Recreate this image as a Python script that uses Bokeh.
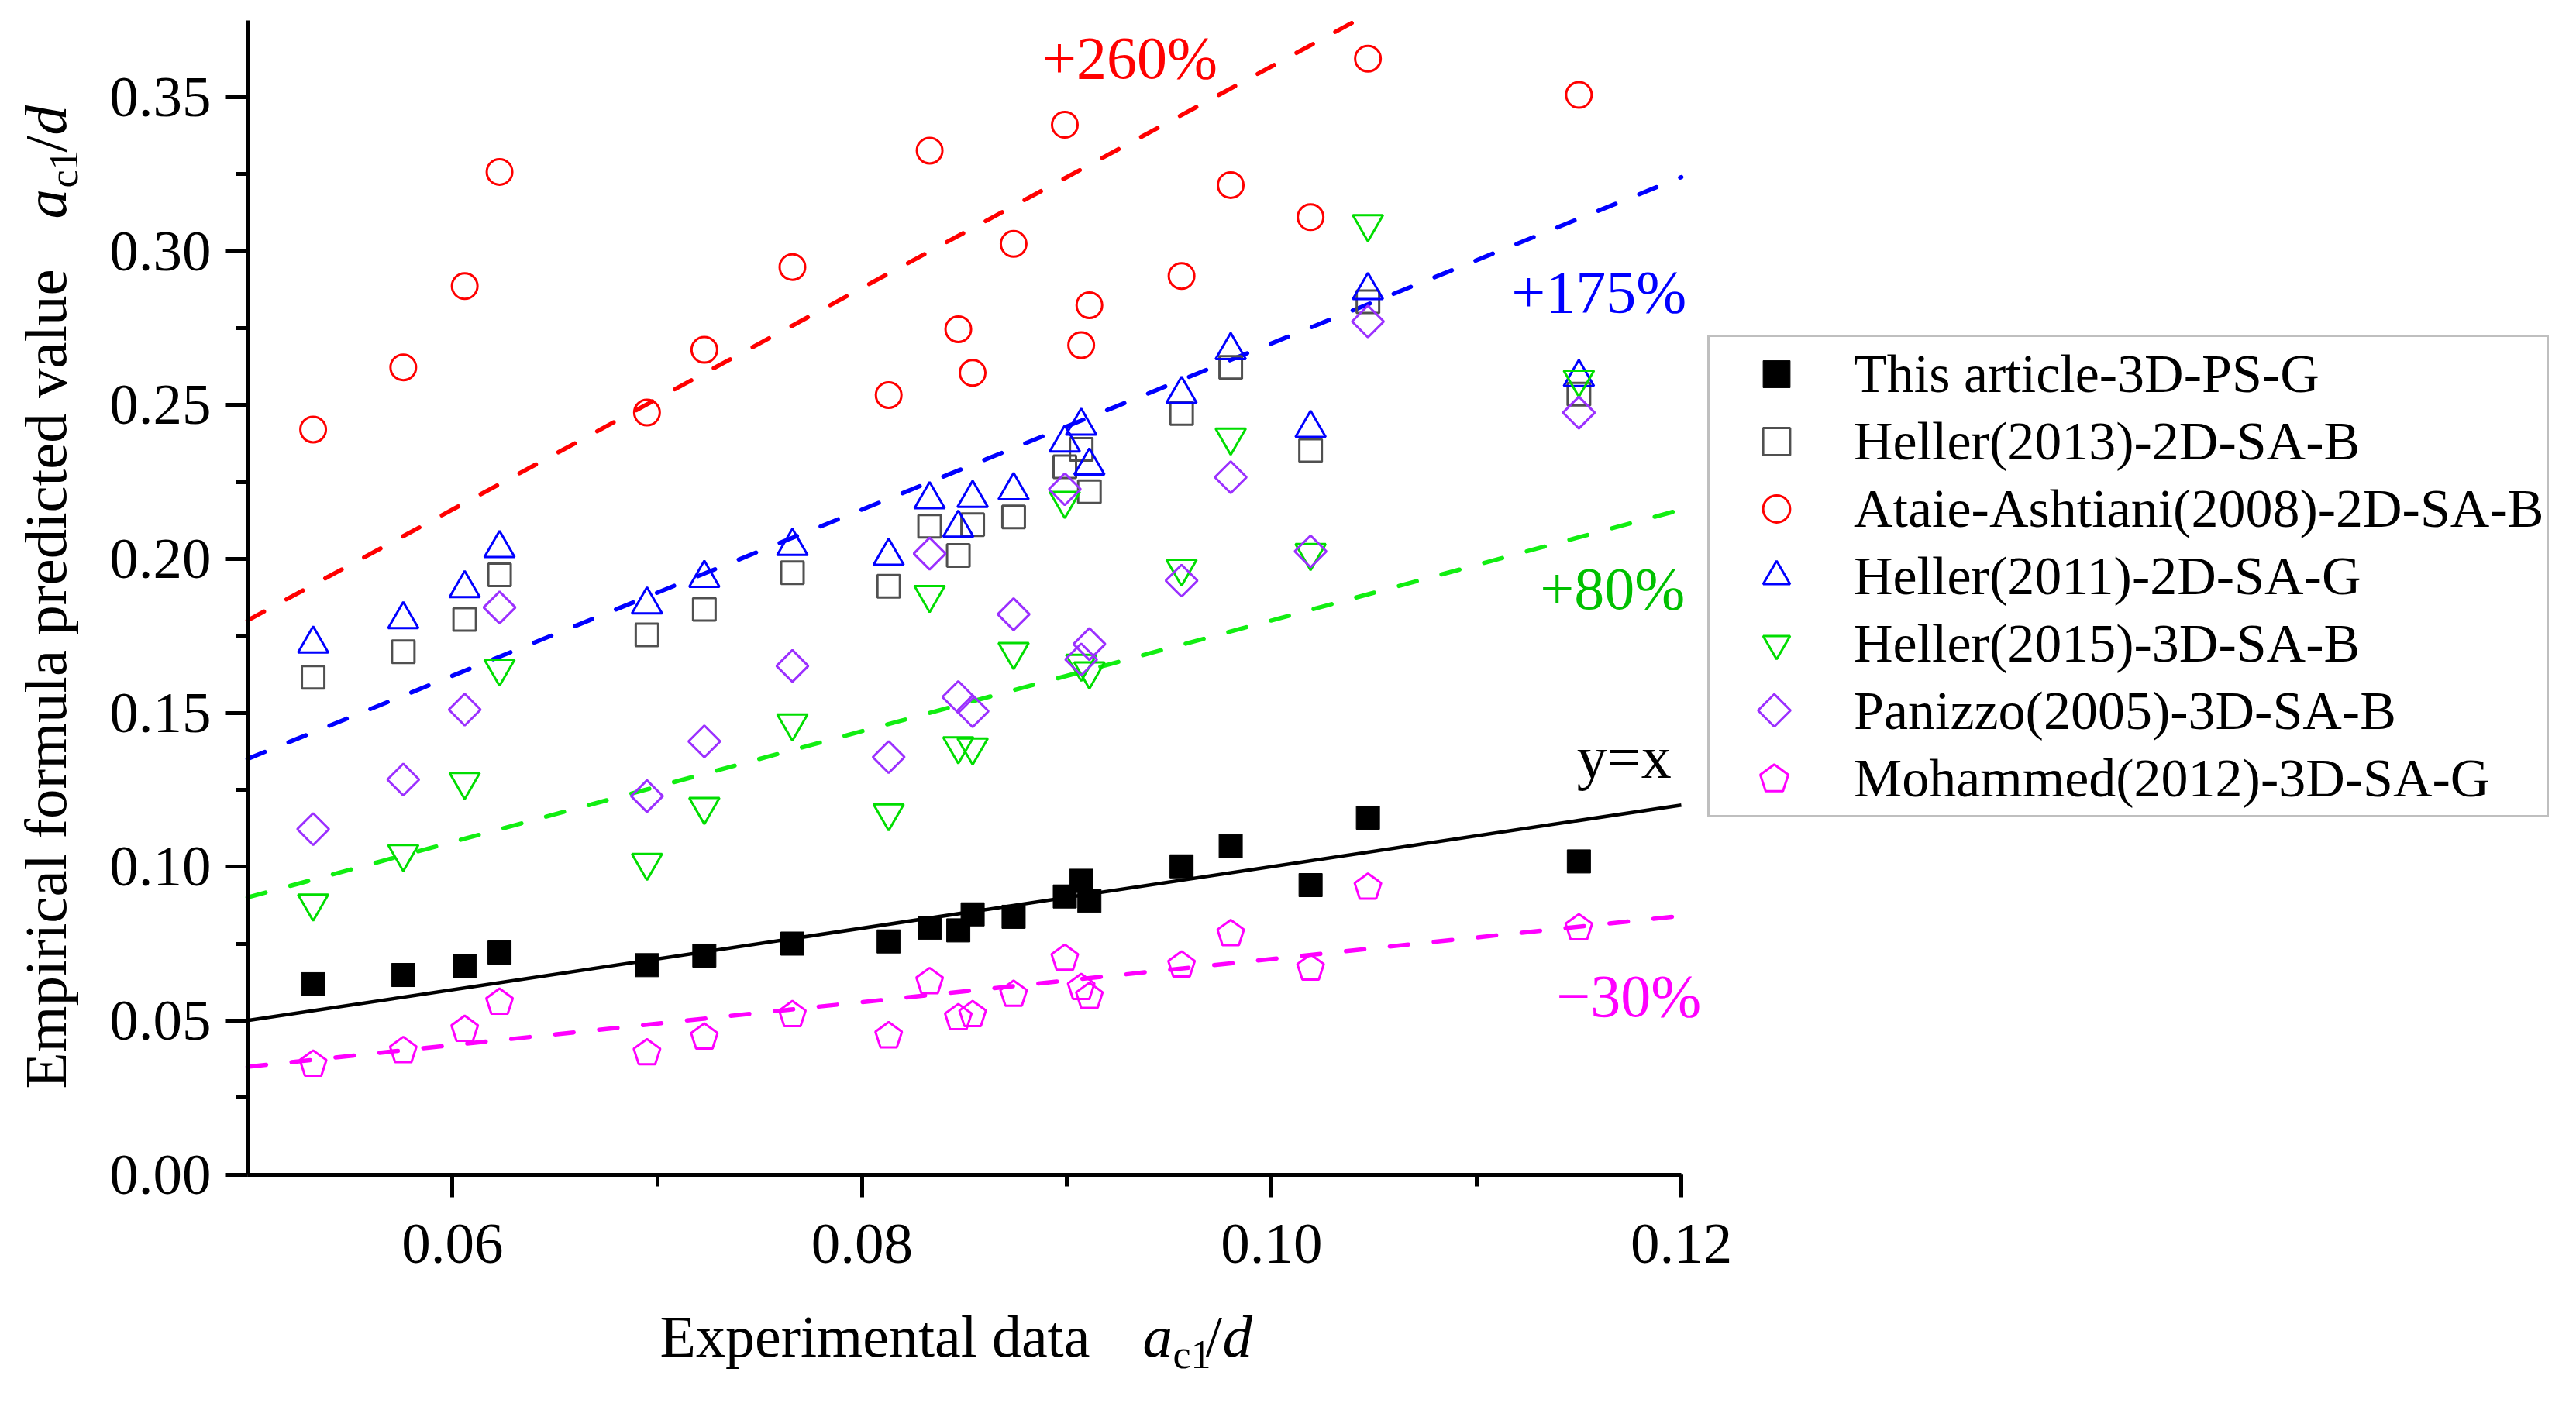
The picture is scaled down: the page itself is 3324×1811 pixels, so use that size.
import numpy as np
from bokeh.plotting import figure
from bokeh.models import (Range1d, SingleIntervalTicker, PrintfTickFormatter, Label,
                          Legend, LegendItem)
from bokeh.embed import file_html
from bokeh.resources import INLINE

# ---------------- data ----------------
x_exp = [0.0532, 0.0576, 0.0606, 0.0623, 0.0695, 0.0723, 0.0766, 0.0813, 0.0833, 0.0847,
         0.0854, 0.0874, 0.0899, 0.0907, 0.0911, 0.0956, 0.0980, 0.1019, 0.1047, 0.1150]

this_article = [0.0618, 0.0648, 0.0677, 0.0721, 0.0680, 0.0711, 0.0750, 0.0757, 0.0801, 0.0793,
                0.0845, 0.0837, 0.0903, 0.0954, 0.0889, 0.1001, 0.1067, 0.0940, 0.1159, 0.1017]
heller2013 = [0.1615, 0.1698, 0.1803, 0.1948, 0.1753, 0.1836, 0.1955, 0.1911, 0.2106, 0.2011,
              0.2111, 0.2136, 0.2299, 0.2356, 0.2218, 0.2472, 0.2622, 0.2352, 0.2835, 0.2535]
ataie2008 = [0.2420, 0.2622, 0.2886, 0.3257, 0.2475, 0.2679, 0.2948, 0.2532, 0.3326, 0.2746,
             0.2604, 0.3023, 0.3410, 0.2694, 0.2824, 0.2919, 0.3214, 0.3110, 0.3625, 0.3507]
heller2011 = [0.1724, 0.1803, 0.1904, 0.2034, 0.1851, 0.1937, 0.2041, 0.2009, 0.2193, 0.2100,
              0.2197, 0.2222, 0.2377, 0.2432, 0.2302, 0.2535, 0.2677, 0.2424, 0.2872, 0.2590]
heller2015 = [0.0881, 0.1042, 0.1276, 0.1644, 0.1013, 0.1195, 0.1466, 0.1174, 0.1883, 0.1392,
              0.1388, 0.1698, 0.2189, 0.1660, 0.1635, 0.1969, 0.2395, 0.2020, 0.3088, 0.2583]
panizzo2005 = [0.1122, 0.1283, 0.1510, 0.1842, 0.1229, 0.1407, 0.1652, 0.1356, 0.2017, 0.1551,
               0.1505, 0.1820, 0.2226, 0.1673, 0.1723, 0.1929, 0.2265, 0.2024, 0.2771, 0.2475]
mohammed2012 = [0.0362, 0.0406, 0.0475, 0.0563, 0.0399, 0.0450, 0.0523, 0.0454, 0.0630, 0.0513,
                0.0523, 0.0589, 0.0706, 0.0611, 0.0582, 0.0684, 0.0786, 0.0674, 0.0937, 0.0805]

series_names = ["This article-3D-PS-G", "Heller(2013)-2D-SA-B", "Ataie-Ashtiani(2008)-2D-SA-B",
                "Heller(2011)-2D-SA-G", "Heller(2015)-3D-SA-B", "Panizzo(2005)-3D-SA-B",
                "Mohammed(2012)-3D-SA-G"]

ref_factors = [3.6, 2.7, 1.8, 1.0, 0.7]
ref_texts = ["+260%", "+175%", "+80%", "y=x", "\u221230%"]
ref_text_x = [0.0888, 0.1117, 0.1131, 0.1149, 0.1139]
ref_text_y = [0.3573, 0.2813, 0.1847, 0.1299, 0.0524]

x_ticks_interval = 0.02
y_ticks_interval = 0.05

# ---------------- layout / styling ----------------
FONT = "Liberation Serif"
CW, CH = 3300, 1790                      # canvas size
PL, PR, PT, PB = 319, 2169, 25.5, 1515.5  # plotting region in canvas pixels
X0, X1, Y0, Y1 = 0.05, 0.12, 0.0, 0.375
dxp = (X1 - X0) / (PR - PL)   # data units per pixel
dyp = (Y1 - Y0) / (PB - PT)
XS, XE = X0 - PL * dxp, X0 + (CW - PL) * dxp
YS, YE = Y0 - (CH - PB) * dyp, Y0 + PB * dyp
BASE_FIX = 0.285              # baseline correction, in em


def rx(ox):   # reference-image pixel -> data x
    return X0 + (ox - 8 - PL) * dxp


def ry(oy):   # reference-image pixel -> data y
    return Y0 + (PB - (oy - 8)) * dyp


RED = "#FF0000"
BLUE = "#0000FF"
GREEN_M = "#00DD00"
GREEN_L = "#11EE11"
GREEN_T = "#00C000"
PURPLE = "#9B30FF"
MAGENTA = "#FF00FF"
GRAY = "#505050"

p = figure(frame_width=CW, frame_height=CH, x_range=Range1d(XS, XE), y_range=Range1d(YS, YE),
           output_backend="svg", toolbar_location=None, min_border=0)
p.outline_line_color = None
p.grid.visible = False
p.background_fill_color = "white"
p.border_fill_color = "white"

p.xaxis.ticker = SingleIntervalTicker(interval=x_ticks_interval, num_minor_ticks=2)
p.yaxis.ticker = SingleIntervalTicker(interval=y_ticks_interval, num_minor_ticks=2)
p.xaxis.formatter = PrintfTickFormatter(format="%.2f")
p.yaxis.formatter = PrintfTickFormatter(format="%.2f")
p.xaxis.fixed_location = Y0
p.yaxis.fixed_location = X0
p.xaxis.bounds = (X0, X1)
p.yaxis.bounds = (Y0, Y1)
for ax in (p.xaxis[0], p.yaxis[0]):
    ax.axis_line_width = 5
    ax.axis_line_color = "black"
    ax.major_tick_line_width = 5
    ax.minor_tick_line_width = 5
    ax.major_tick_line_color = "black"
    ax.minor_tick_line_color = "black"
    ax.major_tick_in = 0
    ax.minor_tick_in = 0
    ax.major_tick_out = 29
    ax.minor_tick_out = 15
    ax.major_label_text_font = FONT
    ax.major_label_text_font_size = "75px"
    ax.major_label_text_color = "black"
p.yaxis.major_label_standoff = 18
p.xaxis.major_label_standoff = 36

# reference lines (clipped to the plotting region)
line_cols = [RED, BLUE, GREEN_L, "black", MAGENTA]
for k, c in zip(ref_factors, line_cols):
    xe = min(X1, Y1 / k)
    xl = [X0, xe]
    yl = [k * v for v in xl]
    if k == 1.0:
        p.line(xl, yl, line_color=c, line_width=4.5)
    else:
        p.line(xl, yl, line_color=c, line_width=5.5, line_dash="24 33", line_cap="round")

# markers
r_h2013 = p.scatter(x_exp, heller2013, marker="square", size=29, fill_color=None,
                    line_color=GRAY, line_width=3)
r_ataie = p.scatter(x_exp, ataie2008, marker="circle", size=33, fill_color=None,
                    line_color=RED, line_width=3)
r_h2011 = p.scatter(x_exp, heller2011, marker="triangle", size=39, fill_color=None,
                    line_color=BLUE, line_width=3)
r_h2015 = p.scatter(x_exp, heller2015, marker="inverted_triangle", size=39, fill_color=None,
                    line_color=GREEN_M, line_width=3)
r_pan = p.scatter(x_exp, panizzo2005, marker="square", angle=np.pi / 4, size=29,
                  fill_color=None, line_color=PURPLE, line_width=3)


def pentagon(cx, cy, R):
    a = np.deg2rad(90 + 72 * np.arange(5))
    return list(cx + R * np.cos(a) * dxp), list(cy + (R * np.sin(a) - 0.0955 * R) * dyp)


def diamond(cx, cy, h):
    return ([cx, cx + h * dxp, cx, cx - h * dxp], [cy + h * dyp, cy, cy - h * dyp, cy])


pent_xs, pent_ys = [], []
for xv, yv in zip(x_exp, mohammed2012):
    px_, py_ = pentagon(xv, yv, 18)
    pent_xs.append(px_)
    pent_ys.append(py_)
p.patches(pent_xs, pent_ys, fill_color=None, line_color=MAGENTA, line_width=3)

r_this = p.scatter(x_exp, this_article, marker="square", size=30, fill_color="black",
                   line_color="black", line_width=1)

# invisible stand-ins for legend rows whose glyphs are drawn separately
r_pan_dummy = p.scatter(x_exp, panizzo2005, marker="circle", size=1, fill_alpha=0, line_alpha=0)
r_moh_dummy = p.scatter(x_exp, mohammed2012, marker="circle", size=1, fill_alpha=0, line_alpha=0)

LEG_L, LEG_B = 2203, 1055      # legend box left / bottom in canvas pixels
LEG_PAD, ROW_H, GLY_W = 4, 87, 164
legend = Legend(items=[
    LegendItem(label=series_names[0], renderers=[r_this]),
    LegendItem(label=series_names[1], renderers=[r_h2013]),
    LegendItem(label=series_names[2], renderers=[r_ataie]),
    LegendItem(label=series_names[3], renderers=[r_h2011]),
    LegendItem(label=series_names[4], renderers=[r_h2015]),
    LegendItem(label=series_names[5], renderers=[r_pan_dummy]),
    LegendItem(label=series_names[6], renderers=[r_moh_dummy]),
], location=(LEG_L, CH - LEG_B))
legend.label_text_font = FONT
legend.label_text_font_size = "70px"
legend.label_text_color = "black"
legend.glyph_width = GLY_W
legend.glyph_height = ROW_H
legend.label_height = ROW_H
legend.spacing = 0
legend.padding = LEG_PAD
legend.margin = 0
legend.label_standoff = 18
legend.border_line_color = "#808080"
legend.border_line_width = 3
legend.background_fill_alpha = 0
p.add_layout(legend)

# legend glyphs of the diamond and pentagon rows (drawn as glyphs behind the clear legend)
leg_top = LEG_B - (7 * ROW_H + 2 * LEG_PAD) - 4
leg_gx = X0 + (LEG_L + LEG_PAD + GLY_W / 2 - PL) * dxp


def row_y(i):
    return Y0 + (PB - (leg_top + LEG_PAD + ROW_H * i + ROW_H / 2)) * dyp


dx_, dy_ = diamond(leg_gx, row_y(5), 21)
px_, py_ = pentagon(leg_gx, row_y(6), 19)
p.patches([dx_], [dy_], fill_color=None, line_color=PURPLE, line_width=3)
p.patches([px_], [py_], fill_color=None, line_color=MAGENTA, line_width=3)


def add_label(x, y, text, size, italic=False, angle=0.0, color="black"):
    fs = float(size.replace("px", ""))
    if angle == 0.0:
        y = y + BASE_FIX * fs * dyp
    else:
        x = x - BASE_FIX * fs * dxp
    p.add_layout(Label(x=x, y=y, text=text, text_font=FONT, text_font_size=size,
                       text_font_style="italic" if italic else "normal",
                       text_color=color, text_align="left", text_baseline="alphabetic",
                       angle=angle))


# annotation texts of reference lines
txt_cols = [RED, BLUE, GREEN_T, "black", MAGENTA]
for t, tx, ty, c in zip(ref_texts, ref_text_x, ref_text_y, txt_cols):
    add_label(tx, ty, t, "78px", color=c)

# x axis title: "Experimental data  a_c1/d"
xb = ry(1754)
add_label(rx(859), xb, "Experimental data", "76px")
add_label(rx(1482), xb, "a", "77px", italic=True)
add_label(rx(1521), ry(1771), "c1", "52px")
add_label(rx(1563), xb, "/", "77px")
add_label(rx(1585), xb, "d", "77px", italic=True)

# y axis title (rotated)
yb = rx(88)
ang = np.pi / 2
add_label(yb, ry(1413), "Empirical formula predicted value", "77px", angle=ang)
add_label(yb, ry(290), "a", "77px", italic=True, angle=ang)
add_label(rx(105), ry(250), "c1", "52px", angle=ang)
add_label(yb, ry(204), "/", "77px", angle=ang)
add_label(yb, ry(182), "d", "77px", italic=True, angle=ang)

open("out.html", "w").write(file_html(p, INLINE))
